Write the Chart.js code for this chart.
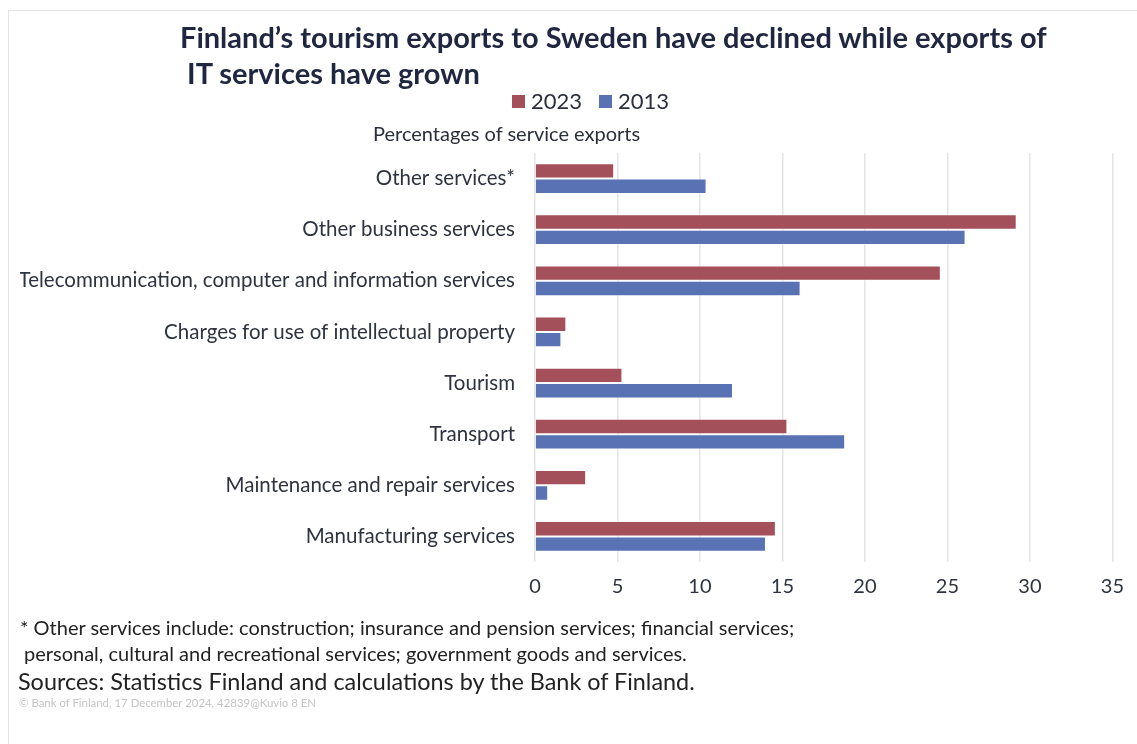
<!DOCTYPE html>
<html>
<head>
<meta charset="utf-8">
<script src="https://cdn.jsdelivr.net/npm/chart.js@4"></script>
<style>
  body { margin: 0; background: #fff; font-family: Lato, "Open Sans", sans-serif; }
  #wrap { position: relative; width: 1137px; height: 744px; overflow: hidden; }
  #frame { position: absolute; left: 8px; top: 10px; width: 1200px; height: 800px; border-left: 1px solid #e2e2e2; border-top: 1px solid #e2e2e2; }
  canvas { position: absolute; left: 0; top: 0; }
  .txt { position: absolute; white-space: nowrap; }
  #title { left: 180px; top: 19px; font-size: 29px; font-weight: bold; color: #1f2640; line-height: 36px; }
  #legend { left: 512px; top: 88px; font-size: 22px; line-height: 26px; color: #2b2f3a; }
  #legend span.sq { display: inline-block; width: 13px; height: 13px; margin-right: 6px; vertical-align: 1px; }
  #sub { left: 373px; top: 121px; font-size: 20px; line-height: 24px; color: #2b2f3a; }
  #note1 { left: 20px; top: 615px; font-size: 20px; line-height: 24px; color: #222; }
  #note2 { left: 24px; top: 641px; font-size: 20px; line-height: 24px; color: #222; }
  #src { left: 18px; top: 667px; font-size: 23.4px; line-height: 28px; color: #222; }
  #copy { left: 19px; top: 697px; font-size: 11.4px; line-height: 12px; color: #c4c4c4; }
</style>
</head>
<body>
<div id="wrap">
  <div id="frame"></div>
  <canvas id="chart" width="1137" height="744"></canvas>
  <div class="txt" id="title">Finland’s tourism exports to Sweden have declined while exports of<br>&nbsp;IT services have grown</div>
  <div class="txt" id="legend"><span class="sq" style="background:#a4505a"></span>2023&nbsp;&nbsp; <span class="sq" style="background:#5872b4"></span>2013</div>
  <div class="txt" id="sub">Percentages of service exports</div>
  <div class="txt" id="note1">* Other services include: construction; insurance and pension services; financial services;</div>
  <div class="txt" id="note2">personal, cultural and recreational services; government goods and services.</div>
  <div class="txt" id="src">Sources: Statistics Finland and calculations by the Bank of Finland.</div>
  <div class="txt" id="copy">© Bank of Finland, 17 December 2024, 42839@Kuvio 8 EN</div>
</div>
<script>
const categories = [
  'Other services*',
  'Other business services',
  'Telecommunication, computer and information services',
  'Charges for use of intellectual property',
  'Tourism',
  'Transport',
  'Maintenance and repair services',
  'Manufacturing services'
];
const values2023 = [4.8, 29.2, 24.6, 1.9, 5.3, 15.3, 3.1, 14.6];
const values2013 = [10.4, 26.1, 16.1, 1.6, 12.0, 18.8, 0.8, 14.0];
const xTicks = [0, 5, 10, 15, 20, 25, 30, 35];

const labelColor = '#2e3340';

new Chart(document.getElementById('chart'), {
  type: 'bar',
  data: {
    labels: categories,
    datasets: [
      { label: '2023', data: values2023, backgroundColor: '#a4505a', borderColor: 'rgba(255,255,255,0.5)', borderWidth: 1 },
      { label: '2013', data: values2013, backgroundColor: '#5872b4', borderColor: 'rgba(255,255,255,0.5)', borderWidth: 1 }
    ]
  },
  options: {
    indexAxis: 'y',
    responsive: false,
    animation: false,
    layout: { padding: { left: 20, right: 24, top: 153, bottom: 136 } },
    datasets: { bar: { categoryPercentage: 0.6, barPercentage: 1.0 } },
    plugins: {
      legend: { display: false },
      tooltip: { enabled: false }
    },
    scales: {
      x: {
        min: 0,
        max: 35,
        afterBuildTicks: s => { s.ticks = xTicks.map(v => ({ value: v })); },
        grid: { color: '#e4e4e4', drawTicks: false, lineWidth: 1.5 },
        border: { display: false },
        ticks: { color: labelColor, font: { family: 'Lato', size: 20 }, padding: 13 },
        afterFit: s => { s.height = 46; }
      },
      y: {
        grid: { display: false, drawTicks: false },
        border: { display: false },
        ticks: { color: labelColor, font: { family: 'Lato', size: 20.5 }, padding: 20 },
        afterFit: s => { s.width = 515; }
      }
    }
  }
});
</script>
</body>
</html>
